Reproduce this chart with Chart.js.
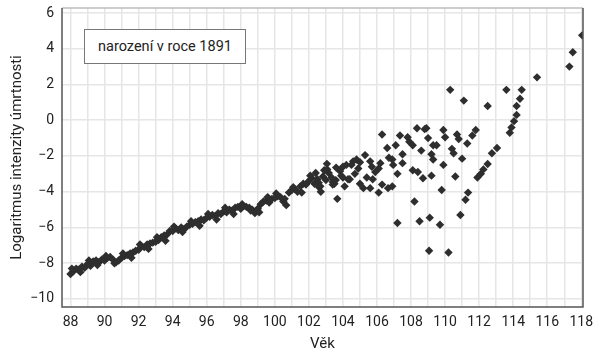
<!DOCTYPE html>
<html>
<head>
<meta charset="utf-8">
<script src="https://cdn.jsdelivr.net/npm/chart.js@4.4.1/dist/chart.umd.min.js"></script>
<style>
  html, body { margin: 0; padding: 0; background: #fff; }
  #wrap { position: relative; width: 601px; height: 359px; }
  #note { position: absolute; left: 84px; top: 29px; width: 162px; height: 35px;
          border: 1px solid #777; background: #fff; box-sizing: border-box;
          font-family: Roboto, sans-serif; font-size: 14.5px; color: #222;
          display: flex; align-items: center; justify-content: center; }
</style>
</head>
<body>
<div id="wrap">
  <canvas id="c" width="601" height="359"></canvas>
  <div id="note">narození v roce 1891</div>
</div>
<script>
// ---- data ----
const ages = [
  88.00, 88.17, 88.33, 88.50, 88.67, 88.83, 89.00, 89.17, 89.33, 89.50, 89.67, 89.83,
  90.00, 90.17, 90.33, 90.50, 90.67, 90.83, 91.00, 91.17, 91.33, 91.50, 91.67, 91.83,
  92.00, 92.17, 92.33, 92.50, 92.67, 92.83, 93.00, 93.17, 93.33, 93.50, 93.67, 93.83,
  94.00, 94.17, 94.33, 94.50, 94.67, 94.83, 95.00, 95.17, 95.33, 95.50, 95.67, 95.83,
  96.00, 96.17, 96.33, 96.50, 96.67, 96.83, 97.00, 97.17, 97.33, 97.50, 97.67, 97.83,
  98.00, 98.17, 98.33, 98.50, 98.67, 98.83, 99.00, 99.17, 99.33, 99.50, 99.67, 99.83,
  100.00, 100.17, 100.33, 100.50, 100.67, 100.83, 101.00, 101.17, 101.33, 101.50, 101.67, 101.83,
  102.00, 102.17, 102.33, 102.50, 102.67, 102.83, 103.00, 103.17, 103.33, 103.50, 103.67, 103.83,
  88.08, 88.58, 89.08, 89.58, 90.08, 90.58, 91.08, 91.58, 92.08, 92.58, 93.08, 93.58,
  94.08, 94.58, 95.08, 95.58, 96.08, 96.58, 97.08, 97.58, 98.08, 98.58, 99.08, 99.58,
  100.08, 100.58, 101.08, 101.58, 102.08, 102.58, 103.08, 103.58,
  102.40, 102.90, 103.06, 103.40, 102.60, 103.90, 103.60, 104.00, 103.40, 102.70, 104.10, 104.70,
  104.00, 104.20, 104.50, 104.60, 104.30, 104.80, 104.90, 105.00, 105.30, 105.40, 105.60, 105.60,
  105.70, 105.90, 106.10, 106.10, 106.20, 106.30, 106.30, 106.60, 106.65, 106.70, 106.90, 106.95,
  106.90, 107.10, 107.20, 107.20, 107.35, 107.50, 107.50, 107.80, 107.90, 108.10, 108.10, 108.20,
  108.35, 108.40, 108.50, 108.60, 108.70, 108.80, 108.90, 109.00, 109.10, 109.06, 109.20, 109.20,
  109.30, 109.30, 109.50, 109.70, 109.80, 109.90, 109.90, 110.00, 110.20, 110.30, 110.40, 110.50,
  110.60, 110.70, 110.80, 110.90, 111.00, 111.10, 111.20, 111.30, 111.35, 111.60, 111.80, 111.90,
  112.10, 112.25, 112.50, 112.50, 112.75, 113.05, 113.60, 113.80, 113.90, 114.05, 114.20, 114.20,
  114.40, 114.50, 115.40, 117.30, 117.50, 118.05,
  104.40, 105.00, 105.75, 105.20
];
const logRates = [
  -8.60, -8.45, -8.30, -8.35, -8.20, -8.25, -8.05, -8.15, -7.90, -7.85, -7.95, -7.80,
  -7.85, -7.70, -7.65, -7.80, -7.95, -7.85, -7.70, -7.60, -7.55, -7.45, -7.40, -7.30,
  -7.25, -7.05, -7.10, -6.95, -6.90, -6.85, -6.80, -6.70, -6.55, -6.45, -6.40, -6.20,
  -6.20, -6.05, -6.15, -6.00, -6.10, -5.95, -5.85, -5.80, -5.70, -5.65, -5.55, -5.60,
  -5.45, -5.40, -5.30, -5.35, -5.20, -5.25, -5.10, -5.15, -5.00, -5.05, -4.90, -4.85,
  -4.95, -4.80, -4.85, -4.90, -5.00, -5.20, -4.95, -4.70, -4.55, -4.50, -4.60, -4.40,
  -4.35, -4.25, -4.30, -4.55, -4.75, -4.05, -3.90, -3.85, -4.00, -3.70, -3.55, -3.60,
  -3.40, -3.25, -3.55, -3.30, -3.70, -3.15, -3.35, -2.95, -3.20, -3.55, -4.40, -2.85,
  -8.30, -8.50, -7.85, -8.10, -7.60, -8.00, -7.45, -7.70, -6.95, -7.20, -6.55, -6.75,
  -5.95, -6.25, -5.65, -5.90, -5.25, -5.55, -4.90, -5.25, -4.70, -5.05, -5.15, -4.30,
  -4.10, -4.40, -3.75, -4.05, -3.10, -3.50, -2.75, -3.35,
  -2.95, -2.80, -2.44, -3.60, -3.75, -3.10, -2.65, -3.20, -3.45, -4.00, -3.70, -3.00,
  -2.60, -2.50, -2.50, -2.30, -3.30, -2.20, -2.70, -2.35, -1.95, -3.20, -2.30, -3.80,
  -2.60, -2.90, -2.70, -4.05, -2.40, -3.60, -0.80, -1.55, -3.80, -2.10, -2.20, -2.50,
  -3.70, -1.40, -3.00, -5.75, -0.85, -1.90, -2.40, -0.95, -1.20, -1.40, -2.80, -4.55,
  -0.45, -2.90, -5.65, -1.70, -3.25, -0.50, -0.45, -1.00, -5.45, -7.30, -1.90, -3.10,
  -1.40, -2.20, -1.40, -5.85, -3.90, -0.55, -2.50, -0.95, -7.40, 1.70, -1.60, -1.85,
  -3.15, -0.80, -1.05, -5.30, -2.15, 1.10, -4.45, -1.30, -4.05, -0.85, -0.55, -3.20,
  -3.00, -2.75, -2.45, 0.80, -1.85, -1.55, 1.70, -0.70, -0.40, -0.05, 0.30, 0.80,
  1.20, 1.70, 2.40, 3.00, 3.80, 4.75,
  -3.30, -3.55, -3.30, -3.80
];
const xTickValues = [88,89,90,91,92,93,94,95,96,97,98,99,100,101,102,103,104,105,106,107,108,109,110,111,112,113,114,115,116,117,118];
const xTickLabels = ['88','','90','','92','','94','','96','','98','','100','','102','','104','','106','','108','','110','','112','','114','','116','','118'];
const yTickValues = [-10,-8,-6,-4,-2,0,2,4,6];
const yTickLabels = ['−10','−8','−6','−4','−2','0','2','4','6'];
const xTitle = 'Věk';
const yTitle = 'Logaritmus intenzity úmrtnosti';

const points = ages.map((a, i) => ({ x: a, y: logRates[i] }));

const frame = {
  id: 'frame',
  afterDraw(chart) {
    const { ctx, chartArea: a } = chart;
    ctx.save();
    ctx.lineWidth = 1.5;
    ctx.strokeStyle = '#bdbdbd';
    ctx.beginPath(); ctx.moveTo(a.left, a.top); ctx.lineTo(a.right, a.top); ctx.stroke();
    ctx.strokeStyle = '#555';
    ctx.beginPath();
    ctx.moveTo(a.left, a.top); ctx.lineTo(a.left, a.bottom); ctx.lineTo(a.right, a.bottom); ctx.lineTo(a.right, a.top);
    ctx.stroke();
    ctx.restore();
  }
};

new Chart(document.getElementById('c'), {
  type: 'scatter',
  data: { datasets: [{ data: points, pointStyle: 'rectRot', radius: 4.2, hoverRadius: 4.2,
                       backgroundColor: '#2e2e2e', borderColor: '#2e2e2e', borderWidth: 0,
                       clip: 0 }] },
  options: {
    responsive: false, animation: false, devicePixelRatio: 1,
    layout: { padding: { left: 0, right: 18, top: 8, bottom: 0 } },
    plugins: { legend: { display: false }, tooltip: { enabled: false } },
    scales: {
      x: {
        type: 'linear', min: 87.5, max: 118.1,
        afterBuildTicks: s => { s.ticks = xTickValues.map(v => ({ value: v })); },
        afterFit: s => { s.height = 52; s.paddingLeft = 0; s.paddingRight = 0; },
        ticks: { autoSkip: false, maxRotation: 0, padding: 7, color: '#222',
                 font: { family: 'Roboto', size: 14 },
                 callback: (v) => xTickLabels[xTickValues.indexOf(v)] },
        grid: { color: '#e6e6e6', lineWidth: 1.5, drawTicks: false },
        border: { display: false },
        title: { display: true, text: xTitle, color: '#222', font: { family: 'Roboto', size: 15 },
                 padding: { top: 0, bottom: 6 } }
      },
      y: {
        type: 'linear', min: -10.45, max: 6.28,
        afterBuildTicks: s => { s.ticks = yTickValues.map(v => ({ value: v })); },
        afterFit: s => { s.width = 62; s.paddingTop = 0; s.paddingBottom = 0; },
        ticks: { autoSkip: false, padding: 8, color: '#222',
                 font: { family: 'Roboto', size: 14 },
                 callback: (v) => yTickLabels[yTickValues.indexOf(v)] },
        grid: { color: '#e6e6e6', lineWidth: 1.5, drawTicks: false },
        border: { display: false },
        title: { display: true, text: yTitle, color: '#222', font: { family: 'Roboto', size: 15 },
                 padding: { top: 8, bottom: 0 } }
      }
    }
  },
  plugins: [frame]
});
</script>
</body>
</html>
